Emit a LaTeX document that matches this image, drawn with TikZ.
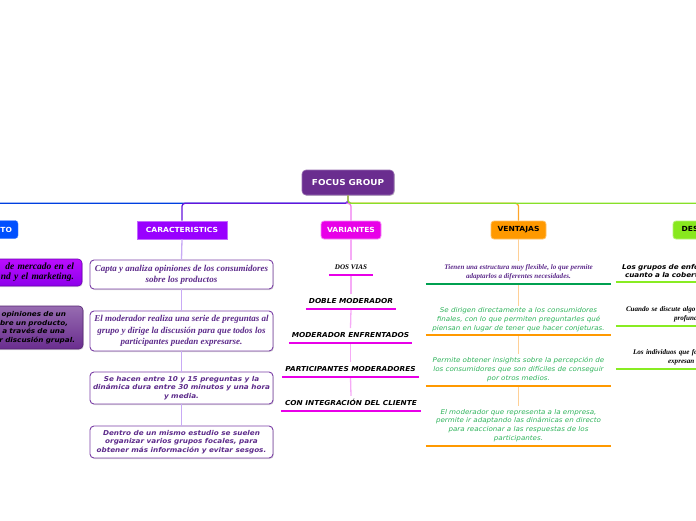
\documentclass[tikz,border=0pt]{standalone}
\usepackage{fontspec}
\setmainfont{DejaVu Sans}
\newfontfamily\verd{DejaVu Sans}[FakeStretch=1.08,BoldFont={DejaVu Sans Bold},ItalicFont={DejaVu Sans Oblique},BoldItalicFont={DejaVu Sans Bold Oblique}]
\newfontfamily\scrf{Liberation Serif}
\usetikzlibrary{shadows}

\definecolor{rootc}{RGB}{106,45,143}
\definecolor{carac}{RGB}{153,0,255}
\definecolor{varc}{RGB}{232,0,232}
\definecolor{ventc}{RGB}{255,153,0}
\definecolor{desvc}{RGB}{136,232,30}
\definecolor{concc}{RGB}{0,80,255}
\definecolor{txtpur}{RGB}{92,42,138}
\definecolor{txtgreen}{RGB}{46,178,90}
\definecolor{barmag}{RGB}{232,0,232}
\definecolor{bargreen}{RGB}{0,160,80}
\definecolor{barlime}{RGB}{136,236,34}
\definecolor{linblue}{RGB}{0,64,224}
\definecolor{linpur}{RGB}{100,20,220}
\definecolor{linmag}{RGB}{240,120,240}
\definecolor{linora}{RGB}{255,165,40}
\definecolor{lingrn}{RGB}{136,224,40}
\definecolor{subblue}{RGB}{150,180,250}
\definecolor{subpur}{RGB}{200,170,245}
\definecolor{submag}{RGB}{246,170,246}
\definecolor{subora}{RGB}{255,208,150}
\definecolor{subgrn}{RGB}{190,240,140}
\definecolor{boxline}{RGB}{123,63,166}

\newcommand\myTitle{\verd\bfseries\fontsize{7}{8.4}\selectfont}
\newcommand\myRoot{\verd\bfseries\fontsize{8.2}{10}\selectfont}
\newcommand\myVbi{\verd\bfseries\itshape\fontsize{6.7}{8.6}\selectfont}
\newcommand\myVbiB{\verd\bfseries\itshape\fontsize{6.8}{8.4}\selectfont}
\newcommand\myVit{\verd\itshape\fontsize{6.6}{8.7}\selectfont}
\newcommand\myScrA{\scrf\bfseries\itshape\fontsize{9}{11}\selectfont}
\newcommand\myScrB{\scrf\bfseries\itshape\fontsize{9}{11.5}\selectfont}
\newcommand\myScrS{\scrf\bfseries\itshape\fontsize{7.1}{9}\selectfont}
\newcommand\myScrL{\scrf\bfseries\itshape\fontsize{9.5}{10}\selectfont}

\tikzset{
  rootbox/.style={fill=rootc, draw=rootc!70!white, line width=0.6pt, rounded corners=4pt, text=white,
    font=\myRoot, minimum width=92pt, minimum height=25pt, inner sep=0pt,
    drop shadow={shadow xshift=0.8pt, shadow yshift=-0.8pt, opacity=0.2, fill=black}},
  titlebox/.style={font=\myTitle, minimum height=18pt, inner sep=0pt},
  cbox/.style={draw=boxline, line width=0.9pt, fill=white, rounded corners=4pt, minimum width=183pt,
    align=center, inner sep=0pt, text=txtpur,
    drop shadow={shadow xshift=0.8pt, shadow yshift=-1pt, opacity=0.25, fill=black!60}},
  lbox/.style={line width=0.6pt, rounded corners=4pt, text width=167pt, align=right, inner xsep=8pt, inner ysep=0pt,
    drop shadow={shadow xshift=0.8pt, shadow yshift=-1pt, opacity=0.2, fill=black!60}},
  br/.style={line width=1.3pt, rounded corners=3pt},
  sub/.style={line width=1.3pt},
  bar/.style={line width=2.8pt},
  item/.style={inner xsep=0pt, inner ysep=3pt, anchor=south, align=center, execute at end node={\strut}},
  ditem/.style={inner xsep=0pt, inner ysep=3pt, anchor=south, align=left, text width=190pt, execute at end node={\strut}},
}

\begin{document}
\begin{tikzpicture}[x=1pt,y=-1pt]
\useasboundingbox (0,0) rectangle (696,520);
\clip (0,0) rectangle (696,520);

% root and main branches
\node[rootbox] (root) at (348,182.5) {FOCUS GROUP};
\node[titlebox, fill=concc, draw=concc!70!white, rounded corners=3pt, text=white, minimum width=58pt] (conc) at (-11,229.5) {CONCEPTO};
\node[titlebox, fill=carac, draw=carac!60!white, line width=0.6pt, text=white, minimum width=90pt] (cara) at (182,230) {CARACTERISTICS};
\node[titlebox, fill=varc, draw=varc!45!white, line width=0.8pt, rounded corners=3pt, text=white, minimum width=60pt] (var) at (351,230) {VARIANTES};
\node[titlebox, fill=ventc, draw=ventc!60!white, line width=0.8pt, rounded corners=3pt, text=black, minimum width=55pt] (vent) at (518.5,230) {VENTAJAS};
\node[titlebox, fill=desvc, draw=desvc!60!white, line width=0.8pt, rounded corners=3pt, text=black, minimum width=76pt] (desv) at (711,230) {DESVENTAJAS};

\draw[br, linblue] (root.south) -- ++(0,8) -| (conc.north);
\draw[br, linpur] (root.south) -- ++(0,8) -| (cara.north);
\draw[br, linora] (root.south) -- ++(0,8) -| (vent.north);
\draw[br, linmag] (root.south) -- ++(0,8) -| (var.north);
\draw[br, lingrn] (root.south) -- ++(0,8) -| (desv.north);

% CONCEPTO children
\node[lbox, draw=carac!70!black, top color=carac!70!magenta!95!white, bottom color=carac!92!black,
  minimum height=27pt, font=\myScrL, text=black] (l1) at (-9.5,272.5) {de mercado en el\\nd y el marketing.};
\node[lbox, draw=rootc!80!black, top color=rootc!70!white, bottom color=rootc,
  minimum height=43pt, font=\myVbi, text=black] (l2) at (-8.5,327.5)
  {opiniones de un\rule{9pt}{0pt}\\bre un producto,\rule{7pt}{0pt}\\a través de una\rule{10pt}{0pt}\\r discusión grupal.};
\draw[sub, subblue] (conc.south) -- (l1.north);
\draw[sub, subblue] (l1.south) -- (l2.north);

% CARACTERISTICS children
\node[cbox, minimum height=29pt, font=\myScrA] (c1) at (181.5,274.5)
  {Capta y analiza opiniones de los consumidores\\sobre los productos};
\node[cbox, minimum height=40pt, font=\myScrB] (c2) at (181.5,331)
  {El moderador realiza una serie de preguntas al\\grupo y dirige la discusión para que todos los\\participantes puedan expresarse.};
\node[cbox, minimum height=32pt, font=\myVbi] (c3) at (181.5,388)
  {Se hacen entre 10 y 15 preguntas y la\\dinámica dura entre 30 minutos y una hora\\y media.};
\node[cbox, minimum height=32pt, font=\myVbi] (c4) at (181.5,442)
  {Dentro de un mismo estudio se suelen\\organizar varios grupos focales, para\\obtener más información y evitar sesgos.};
\draw[sub, subpur] (cara.south) -- (c1.north);
\draw[sub, subpur] (c1.south) -- (c2.north);
\draw[sub, subpur] (c2.south) -- (c3.north);
\draw[sub, subpur] (c3.south) -- (c4.north);

% VARIANTES children
\node[item, minimum width=44pt, font=\myScrS, text=black] (v1) at (351,275) {DOS VIAS};
\node[item, minimum width=90pt, font=\myVbiB, text=black] (v2) at (351,309) {DOBLE MODERADOR};
\node[item, minimum width=123pt, font=\myVbiB, text=black] (v3) at (350.5,343) {MODERADOR ENFRENTADOS};
\node[item, minimum width=137pt, font=\myVbiB, text=black] (v4) at (350.5,377) {PARTICIPANTES MODERADORES};
\node[item, minimum width=140pt, font=\myVbiB, text=black] (v5) at (351,411) {CON INTEGRACIÓN DEL CLIENTE};
\draw[sub, submag] (var.south) -- (v1.north);
\draw[sub, submag] (v1.south) -- (v2.north);
\draw[sub, submag] (v2.south) -- (v3.north);
\draw[sub, submag] (v3.south) -- (v4.north);
\draw[sub, submag] (v4.south) -- (v5.north);
\foreach \n in {v1,v2,v3,v4,v5} \draw[bar, barmag] (\n.south west) -- (\n.south east);

% VENTAJAS children
\node[item, minimum width=185pt, font=\myScrS, text=txtpur] (t1) at (518.5,284)
  {Tienen una estructura muy flexible, lo que permite\\adaptarlos a diferentes necesidades.};
\node[item, minimum width=185pt, font=\myVit, text=txtgreen, inner ysep=2pt] (t2) at (518.5,335)
  {Se dirigen directamente a los consumidores\\finales, con lo que permiten preguntarles qué\\piensan en lugar de tener que hacer conjeturas.};
\node[item, minimum width=185pt, font=\myVit, text=txtgreen] (t3) at (518.5,386)
  {Permite obtener insights sobre la percepción de\\los consumidores que son difíciles de conseguir\\por otros medios.};
\node[item, minimum width=185pt, font=\myVit, text=txtgreen] (t4) at (518.5,446)
  {El moderador que representa a la empresa,\\permite ir adaptando las dinámicas en directo\\para reaccionar a las respuestas de los\\participantes.};
\draw[sub, subora] (vent.south) -- (t1.north);
\draw[sub, subora] (t1.south) -- (t2.north);
\draw[sub, subora] (t2.south) -- (t3.north);
\draw[sub, subora] (t3.south) -- (t4.north);
\draw[bar, bargreen] (t1.south west) -- (t1.south east);
\foreach \n in {t2,t3,t4} \draw[bar, ventc] (\n.south west) -- (\n.south east);

% DESVENTAJAS children
\node[ditem, font=\myVbi, text=black, inner ysep=1.5pt] (d1) at (711,282)
  {\hspace*{6pt}Los grupos de enfoque\\\hspace*{9pt}cuanto a la cobertura};
\node[ditem, font=\myScrS, text=black] (d2) at (711,326)
  {\hspace*{10pt}Cuando se discute algo con\\\hspace*{58pt}profundidad};
\node[ditem, font=\myScrS, text=black] (d3) at (711,369)
  {\hspace*{17pt}Los individuos que forman\\\hspace*{52pt}expresan};
\draw[sub, subgrn] (desv.south) -- (d1.north);
\draw[sub, subgrn] (d1.south) -- (d2.north);
\draw[sub, subgrn] (d2.south) -- (d3.north);
\foreach \n in {d1,d2,d3} \draw[bar, barlime] (\n.south west) -- (\n.south east);
\end{tikzpicture}
\end{document}
